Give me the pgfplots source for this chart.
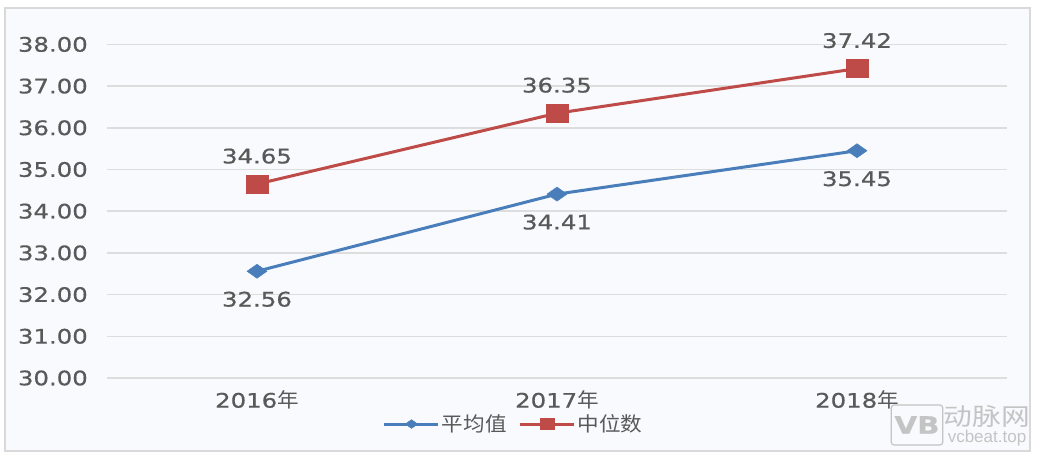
\documentclass[border=0pt]{standalone}
\usepackage{fontspec}
\setmainfont[FakeStretch=1.22, FakeBold=0.6]{DejaVu Sans}
\newfontfamily\cjk[FakeStretch=1.08]{Noto Sans CJK SC}
\newfontfamily\cjkwm[FakeStretch=1.2]{Noto Sans CJK SC}
\newfontfamily\wmlat{Liberation Sans}
\usepackage{pgfplots}
\pgfplotsset{compat=1.18}
\definecolor{bgc}{HTML}{F8FAFD}
\definecolor{framec}{HTML}{D9D9D9}
\definecolor{gridc}{HTML}{DDDDDD}
\definecolor{txt}{HTML}{595959}
\definecolor{blueline}{HTML}{4A7EBB}
\definecolor{redline}{HTML}{BE4B48}
\definecolor{wm}{HTML}{C4C4C4}
\begin{document}
\begin{tikzpicture}
\path[use as bounding box] (-107pt,-80pt) rectangle (935pt,378pt);
\fill[white] (-107pt,-80pt) rectangle (935pt,378pt);
\draw[framec, fill=bgc, line width=1.2pt] (-102pt,-73pt) rectangle (923pt,370pt);
\begin{axis}[
  scale only axis, width=900pt, height=333.6pt,
  xmin=-0.5, xmax=2.5, ymin=30, ymax=38,
  xtick={0,1,2}, xticklabels={2016{\cjk 年},2017{\cjk 年},2018{\cjk 年}},
  ytick={30,31,32,33,34,35,36,37,38},
  yticklabels={30.00,31.00,32.00,33.00,34.00,35.00,36.00,37.00,38.00},
  axis line style={draw=none}, major tick length=0pt,
  ymajorgrids, grid style={gridc, line width=1.5pt},
  tick label style={font=\fontsize{20}{24}\selectfont, text=txt},
  yticklabel style={anchor=east, inner sep=0pt, xshift=-19pt},
  xticklabel style={anchor=center, inner sep=0pt, yshift=-22pt},
  legend image code/.code={\draw[#1, mark repeat=2, mark phase=2, every mark/.append style={scale=0.62}] plot coordinates {(0pt,0pt) (27pt,0pt) (54pt,0pt)};},
  legend style={at={(0.452,-0.138)}, anchor=center, draw=none, fill=none,
    font=\cjk\fontsize{20}{24}\selectfont, text=txt, inner sep=0pt,
    /tikz/every even column/.append style={column sep=10pt}},
  legend columns=2,
  clip=false,
]
\addplot[blueline, line width=3pt, mark=diamond*, mark size=7pt,
  mark options={xscale=1.9, fill=blueline, draw=blueline, line width=0.5pt},
  nodes near coords, point meta=explicit symbolic,
  nodes near coords style={font=\fontsize{20}{24}\selectfont, text=txt, anchor=center, yshift=-28pt}]
  coordinates {(0,32.56) [32.56] (1,34.41) [34.41] (2,35.45) [35.45]};
\addlegendentry{平均值}
\addplot[redline, line width=3pt, mark=square*, mark size=9pt,
  mark options={xscale=1.2, fill=redline, draw=redline, line width=0.5pt},
  nodes near coords, point meta=explicit symbolic,
  nodes near coords style={font=\fontsize{20}{24}\selectfont, text=txt, anchor=center, yshift=28pt}]
  coordinates {(0,34.65) [34.65] (1,36.35) [36.35] (2,37.42) [37.42]};
\addlegendentry{中位数}
\end{axis}
\node[text=wm, draw=wm, rounded corners=3pt, minimum width=39pt, minimum height=40pt, line width=1.2pt, font=\bfseries\fontsize{24}{24}\selectfont] at (810pt,-47pt) {VB};
\node[text=wm, font=\cjkwm\fontsize{24}{24}\selectfont] at (880pt,-38pt) {动脉网};
\node[text=wm, font=\wmlat\fontsize{17}{17}\selectfont] at (880pt,-60pt) {vcbeat.top};
\end{tikzpicture}
\end{document}
